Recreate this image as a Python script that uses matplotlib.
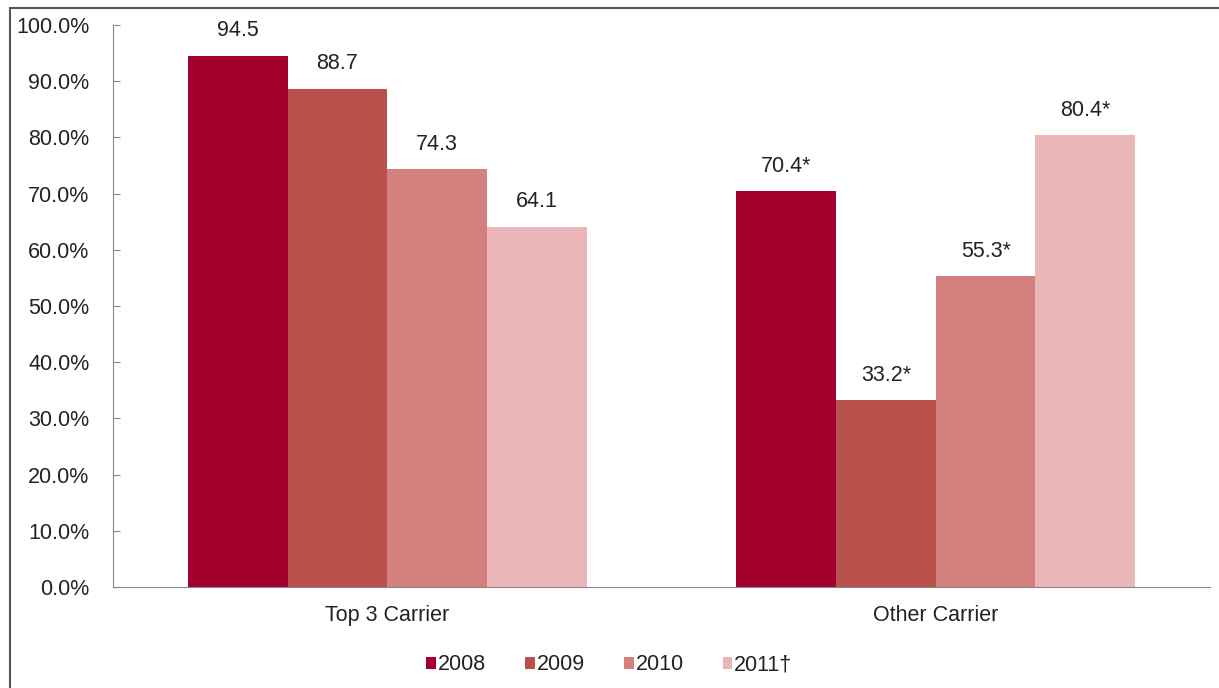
import numpy as np
import matplotlib
matplotlib.use("Agg")
import matplotlib.pyplot as plt
from matplotlib.patches import Rectangle

plt.rcParams['font.family'] = ['Liberation Sans', 'DejaVu Sans']

# Share of responses by carrier type and year
categories = ["Top 3 Carrier", "Other Carrier"]
years = ["2008", "2009", "2010", "2011\u2020"]
values_2008 = [94.5, 70.4]
values_2009 = [88.7, 33.2]
values_2010 = [74.3, 55.3]
values_2011 = [64.1, 80.4]
labels_2008 = ["94.5", "70.4*"]
labels_2009 = ["88.7", "33.2*"]
labels_2010 = ["74.3", "55.3*"]
labels_2011 = ["64.1", "80.4*"]

series = [values_2008, values_2009, values_2010, values_2011]
series_labels = [labels_2008, labels_2009, labels_2010, labels_2011]
colors = ["#A3002F", "#B8504B", "#D4807F", "#EAB6B8"]
FS = 15.5

fig = plt.figure(figsize=(12.19, 6.88), dpi=100)
ax = fig.add_axes([113 / 1219, 1 - 587 / 688, (1210 - 113) / 1219, (587 - 25) / 688])

# outer frame around the chart
fig.patches.append(Rectangle((10 / 1219, -0.1), 1.2, 1 - 8 / 688 + 0.1,
                             transform=fig.transFigure, fill=False,
                             edgecolor="#555555", linewidth=1.5))

x = np.arange(len(categories))
width = 100 / 550
offsets = (np.arange(len(years)) - 1.5) * width

for vals, labs, off, col, yr in zip(series, series_labels, offsets, colors, years):
    bars = ax.bar(x + off, vals, width=width, color=col, label=yr, zorder=2)
    for b, lab in zip(bars, labs):
        ax.text(b.get_x() + b.get_width() / 2, b.get_height() + 2.6, lab,
                ha="center", va="bottom", fontsize=FS, color="#222222")

ax.set_xlim(-0.5, 1.5)
ax.set_ylim(0, 100)
ax.set_yticks(np.arange(0, 101, 10))
ax.set_yticklabels([f"{v:.1f}%" for v in np.arange(0, 101, 10)])
ax.set_xticks(x)
ax.set_xticklabels(categories)
ax.tick_params(axis="y", direction="in", length=5, color="#888888",
               labelsize=FS, labelcolor="#222222", pad=17)
ax.tick_params(axis="x", length=0, labelsize=FS, labelcolor="#222222", pad=13)

for side in ["top", "right"]:
    ax.spines[side].set_visible(False)
ax.spines["left"].set_color("#888888")
ax.spines["bottom"].set_color("#888888")

ax.legend(loc="center", bbox_to_anchor=(0.5, (688 - 665) / 688), bbox_transform=fig.transFigure,
          ncol=4, frameon=False, fontsize=FS, handlelength=0.45, handleheight=0.45,
          handletextpad=0.1, columnspacing=1.8, labelcolor="#222222")

fig.savefig("out.png", dpi=100, facecolor="white")
